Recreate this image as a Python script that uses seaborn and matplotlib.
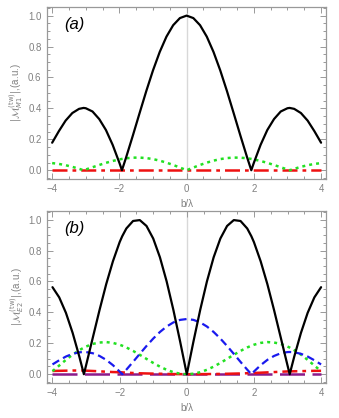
import numpy as np
import pandas as pd
import seaborn as sns
import matplotlib
matplotlib.use("Agg")
import matplotlib.pyplot as plt
from matplotlib.ticker import MultipleLocator

# ---------------- data ----------------
b_pos = [0.2, 0.4, 0.6, 0.8, 1.0, 1.2, 1.4, 1.6, 1.8, 1.924, 2.0, 2.2, 2.4, 2.6,
         2.8, 3.0, 3.065, 3.2, 3.4, 3.6, 3.8, 4.0]
b_lambda = [-v for v in b_pos[::-1]] + [0.0] + b_pos

a_black_pos = [0.984, 0.938, 0.864, 0.765, 0.646, 0.512, 0.369, 0.224, 0.083, 0.0, 0.048,
               0.164, 0.260, 0.331, 0.380, 0.401, 0.403, 0.397, 0.370, 0.321, 0.253, 0.178]
a_black = a_black_pos[::-1] + [1.0] + a_black_pos

a_green_pos = [0.0175, 0.0342, 0.0492, 0.0620, 0.0720, 0.0787, 0.0818, 0.0813, 0.0773, 0.0732,
               0.0701, 0.0599, 0.0478, 0.0340, 0.0194, 0.0047, 0.0, 0.0093, 0.0219, 0.0326,
               0.0408, 0.0462]
a_green = a_green_pos[::-1] + [0.0] + a_green_pos

a_red_pos = [0.002, 0.002, 0.002, 0.002, 0.002, 0.002, 0.002, 0.002, 0.002, 0.002, 0.002,
             0.002, 0.002, 0.002, 0.002, 0.002, 0.002, 0.002, 0.002, 0.002, 0.002, 0.002]
a_red = a_red_pos[::-1] + [0.002] + a_red_pos

b_black_pos = [0.2131, 0.4163, 0.6002, 0.7562, 0.8775, 0.9588, 0.9968, 0.9911, 0.9426, 0.8921,
               0.8542, 0.7306, 0.5827, 0.4143, 0.2361, 0.0572, 0.0, 0.1135, 0.2672, 0.3970,
               0.4970, 0.5629]
b_black = b_black_pos[::-1] + [0.0] + b_black_pos

b_blue_pos = [0.3514, 0.3350, 0.3085, 0.2732, 0.2306, 0.1827, 0.1317, 0.0799, 0.0295, 0.0,
              0.0173, 0.0586, 0.0928, 0.1183, 0.1357, 0.1433, 0.1438, 0.1418, 0.1321, 0.1144,
              0.0903, 0.0634]
b_blue = b_blue_pos[::-1] + [0.357] + b_blue_pos

b_green_pos = [0.0033, 0.0131, 0.0287, 0.0491, 0.0731, 0.0992, 0.1256, 0.1508, 0.1731, 0.1846,
               0.1907, 0.2026, 0.2078, 0.2050, 0.1961, 0.1792, 0.1722, 0.1557, 0.1268, 0.0931,
               0.0561, 0.0199]
b_green = b_green_pos[::-1] + [0.0] + b_green_pos

b_red_neg = [0.021, 0.022, 0.023, 0.024, 0.024, 0.024, 0.023, 0.021, 0.019, 0.016, 0.014,
             0.013, 0.012, 0.010, 0.008, 0.006, 0.005, 0.004, 0.003, 0.002, 0.001, 0.0005]
b_red_pos = [0.0002, 0.0005, 0.001, 0.0015, 0.002, 0.003, 0.004, 0.005, 0.0065, 0.0075, 0.008,
             0.010, 0.012, 0.014, 0.016, 0.018, 0.0185, 0.019, 0.020, 0.021, 0.022, 0.022]
b_red = b_red_neg + [0.0] + b_red_pos

b_purple = [0.001] * len(b_lambda)

x_ticks = [-4, -2, 0, 2, 4]
y_ticks = [0.0, 0.2, 0.4, 0.6, 0.8, 1.0]

# ---------------- styling ----------------
sns.set_theme(style="ticks")
plt.rcParams["font.family"] = ["Liberation Sans", "DejaVu Sans"]
plt.rcParams["mathtext.fontset"] = "dejavusans"

GRAY = "#999999"
TXT = "#808080"

fig = plt.figure(figsize=(3.39, 4.18), dpi=100)
ax_a = fig.add_axes([0.139, 0.572, 0.823, 0.411])
ax_b = fig.add_axes([0.140, 0.084, 0.822, 0.411])

GREEN = "#22e022"
BLUE = "#1a1aee"
RED = "#ee1111"
PURPLE = "#8b1a8b"


def style_axes(ax, ylabel, tag):
    ax.set_xlim(-4.15, 4.15)
    ax.set_ylim(-0.056, 1.055)
    ax.axvline(0, color="#d8d8d8", lw=1.0, zorder=0)
    ax.set_xticks(x_ticks)
    ax.set_xticklabels(["\u22124", "\u22122", "0", "2", "4"])
    ax.set_yticks(y_ticks)
    ax.set_yticklabels([f"{v:.1f}" for v in y_ticks])
    ax.xaxis.set_minor_locator(MultipleLocator(0.5))
    ax.yaxis.set_minor_locator(MultipleLocator(0.05))
    ax.tick_params(which="both", direction="in", top=True, right=True,
                   colors=GRAY, labelcolor=TXT, labelsize=7, width=0.7)
    ax.tick_params(which="major", length=4, pad=4)
    ax.tick_params(which="minor", length=2)
    for s in ax.spines.values():
        s.set_color(GRAY)
        s.set_linewidth(0.9)
    ax.set_xlabel("b/\u03bb", color=TXT, fontsize=7, labelpad=3)
    ax.set_ylabel(ylabel, color=TXT, fontsize=7, labelpad=2)
    ax.text(-3.65, 0.94, tag, fontsize=12, style="italic", va="center", ha="left",
            color="black")


# panel (a)
sns.lineplot(x=b_lambda, y=a_red, ax=ax_a, color=RED, lw=1.8,
             linestyle=(0, (6, 2, 1.5, 2)), sort=False)
sns.lineplot(x=b_lambda, y=a_green, ax=ax_a, color=GREEN, lw=1.8,
             linestyle=(0, (1.2, 1.6)), sort=False)
sns.lineplot(x=b_lambda, y=a_black, ax=ax_a, color="black", lw=1.6, sort=False)
style_axes(ax_a, r"$|\mathcal{M}^{(\mathrm{tw})}_{M1}|$,(a.u.)", "(a)")
ax_a.text(-3.65, 0.94, "", fontsize=1)

# panel (b)
sns.lineplot(x=b_lambda, y=b_purple, ax=ax_b, color=PURPLE, lw=1.8,
             linestyle=(0, (10, 3)), sort=False)
sns.lineplot(x=b_lambda, y=b_red, ax=ax_b, color=RED, lw=1.8,
             linestyle=(0, (6, 2, 1.5, 2)), sort=False)
sns.lineplot(x=b_lambda, y=b_green, ax=ax_b, color=GREEN, lw=1.8,
             linestyle=(0, (1.2, 1.6)), sort=False)
sns.lineplot(x=b_lambda, y=b_blue, ax=ax_b, color=BLUE, lw=1.6,
             linestyle=(0, (3.5, 2)), sort=False)
sns.lineplot(x=b_lambda, y=b_black, ax=ax_b, color="black", lw=1.6, sort=False)
style_axes(ax_b, r"$|\mathcal{M}^{(\mathrm{tw})}_{E2}|$,(a.u.)", "(b)")

fig.savefig("out.png", dpi=100)
